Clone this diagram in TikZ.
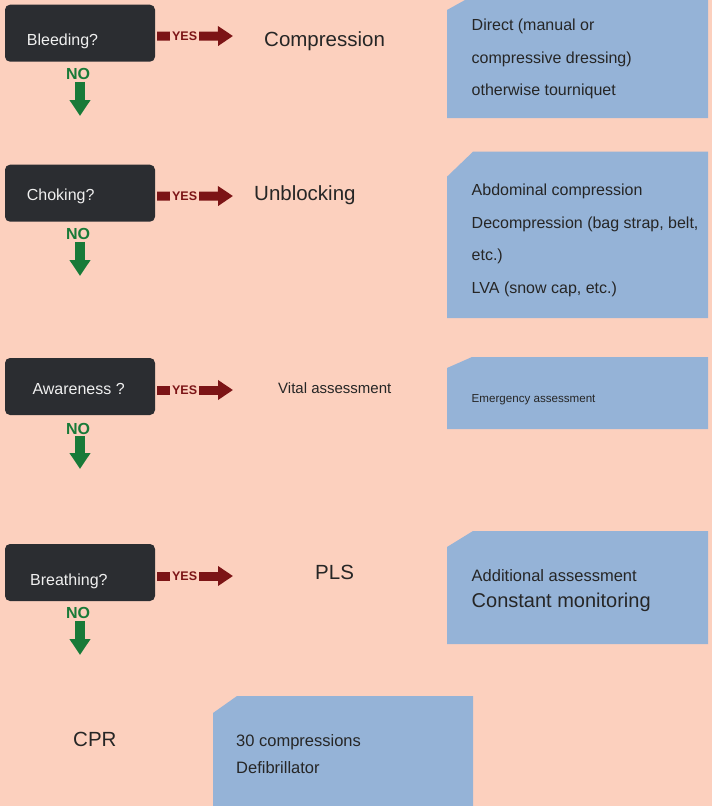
\documentclass[tikz,border=0pt]{standalone}
\usepackage{fontspec}
\setmainfont{Liberation Sans}
\usepackage{xcolor}
\usetikzlibrary{arrows.meta}

\definecolor{peach}{RGB}{252,208,190}
\definecolor{darkbox}{RGB}{43,45,49}
\definecolor{notebox}{RGB}{149,179,215}
\definecolor{yesred}{RGB}{124,20,22}
\definecolor{nogreen}{RGB}{24,122,56}
\definecolor{ink}{RGB}{38,38,38}

\begin{document}
\begin{tikzpicture}[x=1pt,y=-1pt,
    question/.style={fill=darkbox, rounded corners=5pt, minimum width=150pt, minimum height=57pt, inner sep=0pt},
    qtext/.style={anchor=base west, inner sep=0pt, text=white!94!black, font=\fontsize{16}{19}\selectfont},
    yesarrow/.style={draw=yesred, line width=9pt, -{Triangle[length=15pt,width=19pt]}},
    yeslabel/.style={fill=peach, text=yesred, inner xsep=2pt, inner ysep=1pt, pos=0.362, font=\bfseries\fontsize{12.5}{14}\selectfont},
    nolabel/.style={inner sep=0pt, text=nogreen, font=\bfseries\fontsize{16}{18}\selectfont},
    noarrow/.style={draw=nogreen, line width=10pt, -{Triangle[length=16pt,width=20pt]}},
    action/.style={anchor=base west, inner sep=0pt, text=ink, font=\fontsize{20.5}{24}\selectfont},
    note/.style={fill=notebox},
    notetext/.style={anchor=base west, inner sep=0pt, align=left, text=ink, font=\fontsize{16}{32.4}\selectfont}
]
    \useasboundingbox (0,0) rectangle (712,806);
    \fill[peach] (0,0) rectangle (712,806);

    % questions
    \node[question] (q1) at (80,33.2) {};
    \node[qtext] (t1) at (26.7,45) {Bleeding?};
    \node[question] (q2) at (80,193.2) {};
    \node[qtext] (t2) at (26.7,200.7) {Choking?};
    \node[question] (q3) at (80,386.5) {};
    \node[qtext] (t3) at (32.3,394) {Awareness ?};
    \node[question] (q4) at (80,572.5) {};
    \node[qtext] (t4) at (30,585) {Breathing?};

    % yes branches
    \coordinate (y1) at (233,36);
    \coordinate (y2) at (233,196);
    \coordinate (y3) at (233,390);
    \coordinate (y4) at (233,576);
    \draw[yesarrow] ([xshift=2pt,yshift=-3pt]q1.east) -- node[yeslabel] {YES} (y1);
    \draw[yesarrow] ([xshift=2pt,yshift=-3pt]q2.east) -- node[yeslabel] {YES} (y2);
    \draw[yesarrow] ([xshift=2pt,yshift=-3.5pt]q3.east) -- node[yeslabel] {YES} (y3);
    \draw[yesarrow] ([xshift=2pt,yshift=-3.5pt]q4.east) -- node[yeslabel] {YES} (y4);

    \node[action] (a1) at (264,46.7) {Compression};
    \node[action] (a2) at (254,200.2) {Unblocking};
    \node[action, font=\fontsize{15}{18}\selectfont] (a3) at (278,393.5) {Vital assessment};
    \node[action] (a4) at (315,579.5) {PLS};
    \node[action] (a5) at (73,746) {CPR};

    % no branches
    \node[nolabel] (n1) at (78,74) {NO};
    \node[nolabel] (n2) at (78,234) {NO};
    \node[nolabel] (n3) at (78,428.5) {NO};
    \node[nolabel] (n4) at (78,613) {NO};
    \coordinate (e1) at (80,116);
    \coordinate (e2) at (80,276);
    \coordinate (e3) at (80,469);
    \coordinate (e4) at (80,655);
    \draw[noarrow] ([xshift=2pt,yshift=-2pt]n1.south) -- (e1);
    \draw[noarrow] ([xshift=2pt,yshift=-2pt]n2.south) -- (e2);
    \draw[noarrow] ([xshift=2pt,yshift=-2pt]n3.south) -- (e3);
    \draw[noarrow] ([xshift=2pt,yshift=-2pt]n4.south) -- (e4);

    % notes (multi-line text sits on the baseline of its last line)
    \fill[note] (447,10) -- (465,0) -- (708,0) -- (708,118) -- (447,118) -- cycle;
    \node[notetext] (b1) at (471.5,95.7) {Direct (manual or\\compressive dressing)\\otherwise tourniquet};
    \fill[note] (447,176.7) -- (473,151.7) -- (708,151.7) -- (708,318) -- (447,318) -- cycle;
    \node[notetext] (b2) at (471.5,293) {Abdominal compression\\Decompression (bag strap, belt,\\etc.)\\LVA (snow cap, etc.)};
    \fill[note] (447,368) -- (472,357) -- (708,357) -- (708,429) -- (447,429) -- cycle;
    \node[notetext, font=\fontsize{11.6}{14}\selectfont] (b3) at (471.5,402.7) {Emergency assessment};
    \fill[note] (447,547) -- (473,531) -- (708,531) -- (708,644) -- (447,644) -- cycle;
    \node[notetext, font=\fontsize{16.5}{20}\selectfont] (b4) at (471.5,581) {Additional assessment};
    \node[notetext, font=\fontsize{20}{24}\selectfont] (b5) at (471.5,607) {Constant monitoring};
    \fill[note] (213,713) -- (237,696) -- (473,696) -- (473,806) -- (213,806) -- cycle;
    \node[notetext, font=\fontsize{16.5}{27}\selectfont] (b6) at (236,773) {30 compressions\\Defibrillator};
\end{tikzpicture}
\end{document}
